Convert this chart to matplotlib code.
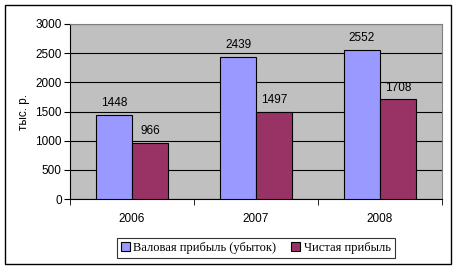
import numpy as np
import matplotlib.pyplot as plt
from matplotlib.patches import Rectangle

years = ['2006', '2007', '2008']
gross = [1448, 2439, 2552]
net = [966, 1497, 1708]
labels = ['Валовая прибыль (убыток)', 'Чистая прибыль']

W, H = 456, 267
fig = plt.figure(figsize=(W / 100, H / 100), dpi=100)
fig.patch.set_facecolor('white')
fig.patches.append(Rectangle((5 / W, 1 - 264 / H), 446 / W, 259 / H,
                             transform=fig.transFigure, fill=False,
                             edgecolor='black', linewidth=1))

ax = fig.add_axes([70 / W, 1 - 199 / H, 372 / W, 175 / H])
ax.set_facecolor('#C0C0C0')

x = np.arange(len(years))
w = 0.29
b1 = ax.bar(x - w / 2, gross, w, color='#9999FF', edgecolor='black', linewidth=0.8,
            label=labels[0], zorder=3)
b2 = ax.bar(x + w / 2, net, w, color='#993366', edgecolor='black', linewidth=0.8,
            label=labels[1], zorder=3)

fs = 8.5
for rects, vals in ((b1, gross), (b2, net)):
    for r, v in zip(rects, vals):
        ax.text(r.get_x() + r.get_width() / 2, v + 100, str(v), ha='center', va='bottom',
                fontsize=fs, family='Liberation Sans')

ax.set_xlim(-0.5, 2.5)
ax.set_ylim(0, 3000)
ax.set_yticks(range(0, 3001, 500))
ax.yaxis.grid(True, color='black', linewidth=0.8, zorder=1)
ax.set_axisbelow(True)
ax.set_xticks(x)
ax.set_xticklabels(years)
ax.set_xticks([-0.5, 0.5, 1.5, 2.5], minor=True)
ax.tick_params(axis='x', which='major', length=0, pad=10)
ax.tick_params(axis='x', which='minor', length=4, direction='out')
ax.tick_params(axis='y', length=4, direction='out', pad=2)
for lab in ax.get_xticklabels() + ax.get_yticklabels():
    lab.set_fontsize(fs)
    lab.set_family('Liberation Sans')
for s in ['top', 'right']:
    ax.spines[s].set_color('#808080')
ax.spines['left'].set_color('black')
ax.spines['bottom'].set_color('black')
ax.set_ylabel('тыс. р.', fontsize=fs, family='Liberation Sans', labelpad=4)

leg = fig.legend(handles=[b1, b2], loc='center', bbox_to_anchor=(256 / W, 1 - 248 / H),
                 ncol=2, frameon=True, fancybox=False, edgecolor='black',
                 prop={'family': 'Liberation Serif', 'size': 9},
                 handlelength=0.7, handleheight=0.7, handletextpad=0.3,
                 columnspacing=1.2, borderpad=0.3)
leg.get_frame().set_linewidth(0.8)

fig.savefig('out.png', dpi=100)
